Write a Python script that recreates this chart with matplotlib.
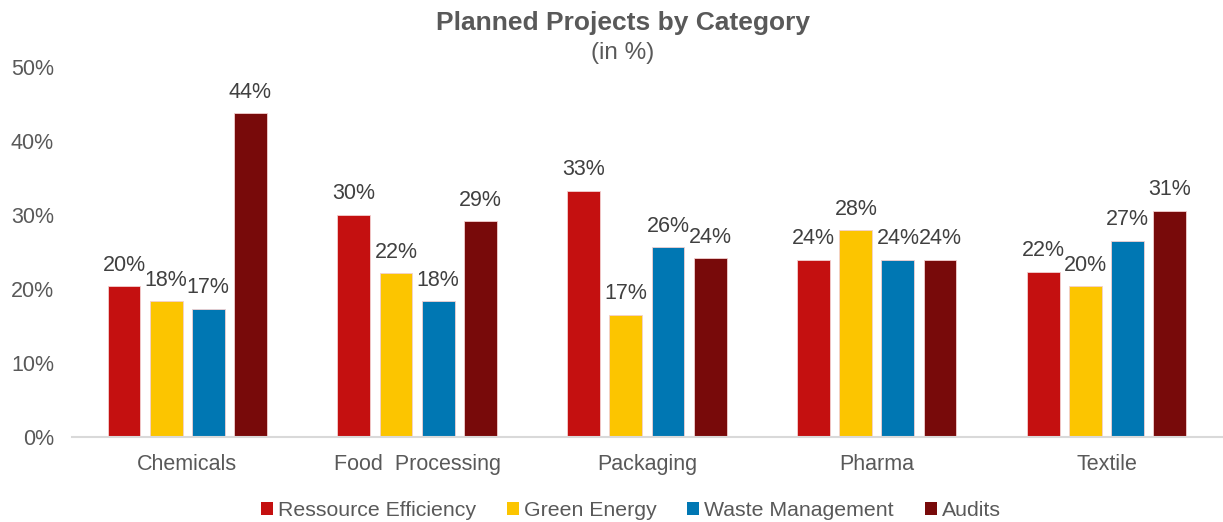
import numpy as np
import matplotlib.pyplot as plt
from matplotlib.ticker import PercentFormatter
from matplotlib.patches import Patch

plt.rcParams['font.family'] = ['Liberation Sans', 'DejaVu Sans']

categories = ["Chemicals", "Food  Processing", "Packaging", "Pharma", "Textile"]
series = ["Ressource Efficiency", "Green Energy", "Waste Management", "Audits"]
resource = [0.204, 0.301, 0.333, 0.240, 0.224]
green = [0.184, 0.222, 0.166, 0.280, 0.204]
waste = [0.174, 0.184, 0.257, 0.240, 0.266]
audits = [0.438, 0.292, 0.242, 0.240, 0.306]
colors = ["#C41010", "#FCC500", "#0077B3", "#780A0A"]

values = [resource, green, waste, audits]
grey = "#595959"

fig = plt.figure(figsize=(12.23, 5.22), dpi=100)
ax = fig.add_axes([0.059, 0.162, 0.94, 0.709])

x = np.arange(len(categories))
pitch = 0.183
width = 0.143
for i, (vals, col) in enumerate(zip(values, colors)):
    pos = x + (i - 1.5) * pitch
    ax.bar(pos, vals, width, color=col, edgecolor="#f2d0d0", linewidth=0.6, zorder=2)
    for p, v in zip(pos, vals):
        ax.text(p, v + 0.021, f"{v * 100:.0f}%", ha="center", va="baseline",
                fontsize=15.5, color="#404040", clip_on=False)

ax.set_xlim(-0.5, len(categories) - 0.5)
ax.set_ylim(0, 0.5)
ax.set_yticks(np.arange(0, 0.51, 0.1))
ax.yaxis.set_major_formatter(PercentFormatter(1.0, decimals=0))
ax.set_xticks(x)
ax.set_xticklabels(categories)
ax.tick_params(axis="both", length=0, labelsize=15.5, labelcolor=grey)
ax.tick_params(axis="x", pad=12)
ax.tick_params(axis="y", pad=13)
for s in ["top", "right", "left"]:
    ax.spines[s].set_visible(False)
ax.spines["bottom"].set_color("#d9d9d9")
ax.spines["bottom"].set_linewidth(1.5)

fig.text(0.509, 0.956, "Planned Projects by Category", ha="center", va="center",
         fontsize=19, fontweight="bold", color=grey)
fig.text(0.509, 0.898, "(in %)", ha="center", va="center", fontsize=17.5, color=grey)

handles = [Patch(facecolor=c, label=s) for s, c in zip(series, colors)]
fig.legend(handles=handles, loc="center", bbox_to_anchor=(0.516, 0.022), ncol=4,
           frameon=False, fontsize=15.3, labelcolor=grey, handlelength=0.55,
           handleheight=0.55, handletextpad=0.25, columnspacing=1.45)

fig.savefig("out.png", dpi=100)
